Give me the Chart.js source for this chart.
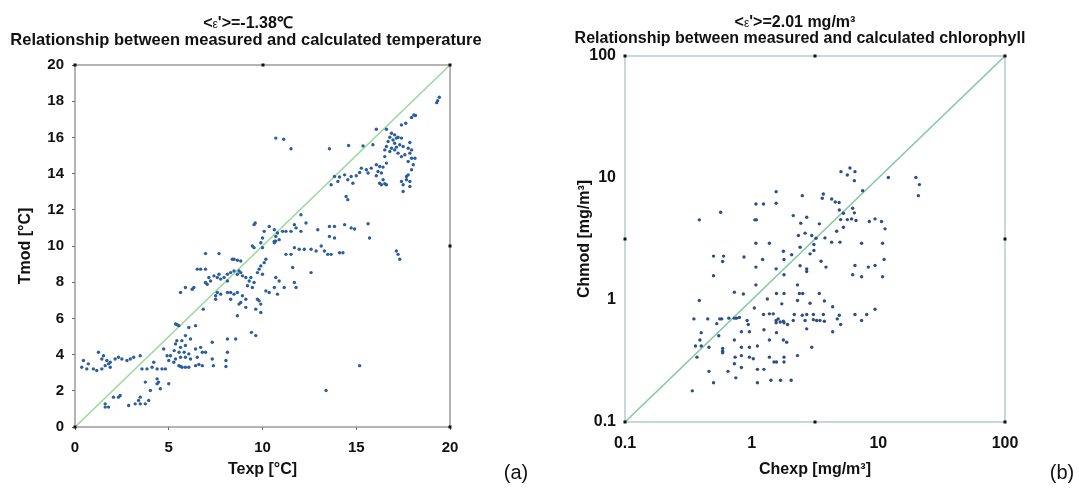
<!DOCTYPE html>
<html><head><meta charset="utf-8">
<script src="https://cdn.jsdelivr.net/npm/chart.js@4.4.1/dist/chart.umd.min.js"></script>
<style>
html,body{margin:0;padding:0;background:#fff;}
#wrap{position:relative;width:1079px;height:488px;overflow:hidden;background:#fff;}
#c1{position:absolute;left:0;top:0;}
#c2{position:absolute;left:540px;top:0;}
</style></head><body>
<div id="wrap">
<canvas id="c1" width="540" height="488"></canvas>
<canvas id="c2" width="539" height="488"></canvas>
</div>
<script>
// ---------- DATA ----------
// (a) temperature: measured (Texp) vs calculated (Tmod), degC
const texp = [19.43,19.29,19.34,18.07,18.16,17.95,17.64,17.41,16.07,16.61,16.88,17.05,16.79,17.14,16.96,17.23,17.41,16.70,17.05,17.32,16.61,16.88,17.14,17.50,16.52,16.79,17.05,17.77,17.95,17.86,17.59,17.95,18.13,17.77,17.41,16.52,17.23,16.61,17.86,16.07,16.25,16.43,16.16,16.34,16.07,16.43,16.25,16.52,16.61,16.34,18.04,17.95,17.77,17.68,17.41,17.86,17.50,17.86,17.50,17.68,13.84,14.11,14.38,14.55,14.73,14.82,15.00,15.18,15.27,15.54,15.63,15.80,13.66,14.02,14.46,14.55,10.71,11.13,11.52,13.57,14.59,15.36,15.89,12.05,9.55,9.61,10.36,10.63,10.09,10.80,10.71,10.89,10.63,11.07,11.25,11.52,11.70,11.79,12.05,12.32,12.95,13.57,13.84,14.38,14.73,14.91,15.63,10.00,13.57,13.84,15.71,
9.46,9.55,9.91,10.63,10.71,11.70,11.96,12.23,12.59,12.86,13.13,13.30,13.48,13.66,14.11,14.29,11.25,11.52,17.14,17.23,17.32,10.00,6.96,7.68,6.52,6.70,6.96,8.39,8.48,8.66,8.84,11.61,12.59,8.48,8.30,8.66,8.75,8.84,8.13,7.68,7.41,7.59,7.95,7.14,7.23,7.05,6.96,7.77,8.13,8.93,9.11,9.38,9.29,9.55,9.20,9.46,9.73,9.82,9.91,10.09,10.18,10.00,10.71,10.89,11.70,11.79,10.63,10.18,10.36,10.80,11.16,7.59,7.77,8.13,8.30,8.48,8.66,8.93,9.11,8.84,8.30,8.75,9.11,9.64,9.73,9.82,9.91,9.91,8.66,7.50,7.50,6.25,6.34,5.89,5.63,6.84,9.41,9.64,8.13,8.57,7.32,5.36,5.54,5.45,6.07,6.43,5.89,6.16,5.43,5.70,5.36,5.63,5.89,5.29,5.55,5.82,6.07,5.09,5.36,5.63,5.89,4.73,4.91,5.00,5.27,5.54,5.71,5.89,6.07,5.63,6.16,6.43,6.52,6.79,6.70,6.96,6.43,6.61,6.79,7.32,8.05,7.38,8.05,8.13,4.11,4.38,4.64,4.82,3.57,3.48,3.84,4.20,0.45,0.71,0.36,0.63,0.98,1.16,1.43,1.61,1.79,1.88,1.25,1.52,1.43,1.70,1.88,2.32,2.50,2.77,2.95,3.13,2.14,3.75,4.38,4.46,4.38,4.55,5.00,4.02,2.41,2.32,2.05,1.61,1.61,1.79,2.86,3.21,3.48,3.48,3.75,3.93,3.39,13.39,15.18];
const tmod = [18.22,17.92,18.03,17.24,17.21,17.10,16.78,16.69,16.45,16.45,16.23,16.14,16.01,15.96,15.86,16.01,15.96,15.77,15.68,15.59,15.50,15.40,15.46,15.50,15.31,15.22,15.31,15.40,15.31,15.13,15.04,14.85,14.85,14.67,14.94,14.94,15.13,14.58,15.72,14.49,14.39,14.36,14.12,14.03,13.88,13.66,13.47,13.44,13.38,13.38,14.49,14.21,13.93,13.66,13.57,13.57,13.38,13.29,13.01,13.84,13.84,13.81,13.93,13.66,13.84,13.47,13.88,14.06,14.30,14.21,14.03,14.30,13.38,13.57,12.74,12.56,15.96,15.90,15.37,15.37,15.55,15.53,15.59,11.73,11.18,11.27,11.08,10.90,10.81,10.72,10.53,10.35,10.26,10.81,10.81,10.81,11.18,11.00,10.81,11.27,10.90,11.08,11.08,11.18,11.00,10.94,11.23,10.44,10.53,10.44,10.44,
10.00,9.91,10.18,10.18,10.27,9.91,9.82,9.82,9.82,9.72,10.00,9.72,9.54,9.54,9.63,9.63,9.54,9.54,9.72,9.54,9.27,9.91,9.58,9.58,8.72,8.72,8.72,9.27,9.27,9.21,9.17,8.81,8.53,8.62,8.53,8.44,8.62,8.53,8.44,8.44,8.35,8.26,8.26,8.26,8.07,7.89,7.98,8.17,8.07,8.35,8.26,8.26,8.07,7.98,7.80,7.71,8.53,8.72,8.90,9.08,9.27,8.44,8.26,8.07,7.98,7.71,7.71,7.52,7.43,7.34,7.71,7.43,7.34,7.43,7.43,7.34,7.43,7.25,7.06,6.88,7.06,6.79,6.61,6.51,7.06,6.97,6.79,6.33,6.15,7.25,7.06,7.61,7.71,7.71,7.43,6.51,5.23,5.05,4.86,4.86,4.68,5.69,5.60,5.65,5.50,5.60,5.05,4.86,4.77,4.77,4.59,4.40,4.50,4.22,4.13,4.13,4.04,3.94,3.76,3.85,3.85,4.31,3.94,3.67,3.58,3.39,3.30,3.30,3.30,3.34,3.76,4.31,3.85,4.13,4.40,4.13,3.39,3.45,3.39,3.76,3.67,3.39,3.34,4.13,3.30,3.21,3.21,3.21,3.21,3.94,3.21,3.58,3.67,3.49,3.30,3.21,3.21,3.12,3.21,3.39,3.49,3.30,4.13,3.94,3.76,3.67,3.58,3.85,3.76,3.67,3.76,3.85,3.76,2.48,2.66,2.48,2.39,2.11,2.39,2.02,1.74,1.65,1.65,1.28,1.10,1.10,1.19,1.28,1.28,1.65,1.28,1.47,1.47,2.02,3.39];
const tempTicksX = [0, 5, 10, 15, 20];
const tempTicksY = [0, 2, 4, 6, 8, 10, 12, 14, 16, 18, 20];
const tempLine = [0, 20];

// (b) chlorophyll: measured (Chexp) vs calculated (Chmod), mg/m3
const chexp = [0.386,0.569,1.08,1.24,1.56,1.56,1.06,1.09,0.50,0.60,0.59,0.87,1.08,1.38,1.22,1.78,1.80,2.07,2.13,2.44,2.72,2.51,2.34,2.64,2.98,2.41,3.10,3.22,2.89,3.10,3.42,3.68,3.61,4.28,4.57,4.90,3.79,3.53,4.28,4.69,4.98,5.04,5.30,5.69,4.92,5.30,6.27,6.47,6.15,6.66,5.07,5.97,6.54,5.69,6.47,7.52,12.0,19.8,21.1,20.7,8.49,9.42,10.6,11.3,7.38,10.8,11.1,6.54,8.34,9.42,1.56,1.08,2.72,3.86,0.50,1.80,6.27,7.38,10.8,2.72,2.41,1.08,0.73,0.86,0.386,1.57,1.80,1.33,1.73,2.30,2.38,2.53,2.30,2.89,3.42,3.75,4.36,2.17,2.72,3.07,3.68,4.92,6.54,8.09,2.51,9.42,7.38,2.64,3.07,3.26,3.75,3.46,2.72,4.36,4.74,5.04,2.98,2.30,1.24,1.38,1.48,1.56,1.62,1.68,1.78,1.56,1.80,1.05,0.92,0.80,0.76,0.73,0.94,1.25,1.57,1.78,1.89,1.38,0.83,0.96,0.73,0.66,0.58,0.56,0.53,0.45,0.35,0.40,0.39,0.36,0.40,0.37,0.46,0.55,0.59,0.59,0.59,0.74,0.83,0.96,0.83,0.96,1.03,1.11,1.11,1.38,1.50,1.57,1.80,1.80,1.25,0.73,0.83,0.75,0.65,0.46,0.50,0.34,1.11,1.42,1.69,2.05,1.92,2.13];
const chmod = [4.54,5.24,6.13,6.13,7.73,6.21,4.54,4.54,2.29,2.29,2.07,2.25,2.92,2.92,2.15,2.51,2.15,2.35,4.92,4.26,4.77,7.17,3.38,3.53,3.38,2.71,2.85,3.21,2.39,2.55,4.21,7.40,6.82,6.73,6.35,6.30,3.23,2.08,2.98,3.66,2.98,4.56,3.95,4.56,5.47,5.14,5.65,5.18,4.62,4.48,11.27,12.08,11.27,10.59,9.51,7.87,10.1,10.1,8.83,7.17,4.40,4.62,4.40,3.83,2.92,2.92,2.15,1.92,1.86,1.92,1.80,1.86,1.80,1.86,1.58,1.61,1.61,1.55,1.55,1.71,1.91,1.33,1.16,1.12,0.99,1.13,1.13,1.02,0.93,1.33,1.13,1.13,0.99,0.94,1.13,0.98,0.88,0.76,0.76,0.76,0.76,0.75,0.76,0.76,0.75,0.84,0.68,0.68,0.69,0.68,0.67,0.68,0.58,0.55,0.70,0.63,0.41,0.35,0.76,0.77,0.77,0.68,0.70,0.66,0.67,0.65,0.65,0.86,0.68,0.72,0.71,0.71,0.63,0.57,0.54,0.47,0.45,0.47,0.55,0.55,0.47,0.71,0.70,0.70,0.64,0.70,0.70,0.54,0.47,0.42,0.42,0.34,0.41,0.51,0.40,0.38,0.37,0.34,0.41,0.41,0.35,0.34,0.33,0.42,0.27,0.34,0.31,0.31,0.31,0.34,0.27,0.30,0.28,0.23,0.26,0.26,0.21,0.18,0.21,0.22,0.22,0.22,0.63,0.68];
const chTicks = [0.1, 1, 10, 100];
const chLine = [0.1, 100];

// ---------- HELPERS ----------
const FONT = "'Liberation Sans', Arial, Helvetica, sans-serif";
Chart.defaults.font.family = FONT;
Chart.defaults.color = '#111';

function drawRich(ctx, segs, cx, y) {
  let total = 0;
  segs.forEach(s => { ctx.font = s.font; s.w = ctx.measureText(s.t).width; total += s.w; });
  let x = cx - total / 2;
  ctx.textAlign = 'left'; ctx.textBaseline = 'alphabetic'; ctx.fillStyle = '#111';
  segs.forEach(s => { ctx.font = s.font; ctx.fillText(s.t, x, y + (s.dy || 0)); x += s.w; });
}

const decorPlugin = {
  id: 'decor',
  beforeDatasetsDraw(chart, args, opts) {
    const a = chart.chartArea, ctx = chart.ctx;
    ctx.save();
    ctx.strokeStyle = opts.frameColor; ctx.lineWidth = 1.3;
    ctx.strokeRect(a.left, a.top, a.right - a.left, a.bottom - a.top);
    ctx.restore();
  },
  afterDraw(chart, args, opts) {
    const ctx = chart.ctx, xs = chart.scales.x, ys = chart.scales.y;
    ctx.save();
    ctx.fillStyle = '#111';
    (opts.dots || []).forEach(d => {
      const px = xs.getPixelForValue(d[0]), py = ys.getPixelForValue(d[1]);
      ctx.fillRect(Math.round(px) - 1.5, Math.round(py) - 1.5, 3, 3);
    });
    (opts.lines || []).forEach(l => drawRich(ctx, l.segs, l.cx, l.y));
    ctx.restore();
  }
};

function fixW(w) { return s => { s.width = w; }; }
function fixH(h) { return s => { s.height = h; }; }

// ---------- CHART (a) ----------
new Chart(document.getElementById('c1'), {
  type: 'scatter',
  data: {
    datasets: [
      { data: texp.map((x, i) => ({ x, y: tmod[i] })), pointRadius: 1.7, pointBorderWidth: 0,
        backgroundColor: '#2c5d9c', borderColor: '#2c5d9c' },
      { data: tempLine.map(v => ({ x: v, y: v })), showLine: true, pointRadius: 0,
        borderColor: '#9cd99c', borderWidth: 1.6 }
    ]
  },
  options: {
    responsive: false, animation: false, devicePixelRatio: 1,
    layout: { padding: { left: 0, right: 90, top: 65, bottom: 0 } },
    plugins: {
      legend: { display: false }, tooltip: { enabled: false },
      decor: {
        frameColor: '#8d8d8d',
        dots: [[0, 20], [10, 20], [20, 20], [20, 10], [20, 0], [0, 0]],
        lines: [
          { cx: 248, y: 28, segs: [
            { t: '<', font: 'bold 16px ' + FONT },
            { t: 'ε', font: '12px ' + FONT },
            { t: "'>=-1.38℃", font: 'bold 16px ' + FONT }] },
          { cx: 246, y: 45, segs: [{ t: 'Relationship between measured and calculated temperature', font: 'bold 16.5px ' + FONT }] },
          { cx: 516, y: 479, segs: [{ t: '(a)', font: '20px ' + FONT }] }
        ]
      }
    },
    scales: {
      x: {
        type: 'linear', min: 0, max: 20, afterFit: fixH(61),
        afterBuildTicks: s => { s.ticks = tempTicksX.map(v => ({ value: v })); },
        grid: { display: true, drawOnChartArea: false, drawTicks: true, tickLength: 3, color: '#666' },
        border: { display: false },
        ticks: { padding: 9, font: { size: 15, weight: 'bold' }, color: '#111' },
        title: { display: true, text: 'Texp [°C]', font: { size: 16, weight: 'bold' }, color: '#111', padding: { top: 0, bottom: 9 } }
      },
      y: {
        type: 'linear', min: 0, max: 20, afterFit: fixW(75),
        afterBuildTicks: s => { s.ticks = tempTicksY.map(v => ({ value: v })); },
        grid: { display: true, drawOnChartArea: false, drawTicks: true, tickLength: 3, color: '#666' },
        border: { display: false },
        ticks: { padding: 8, font: { size: 15, weight: 'bold' }, color: '#111' },
        title: { display: true, text: 'Tmod [°C]', font: { size: 16, weight: 'bold' }, color: '#111', padding: { top: 16, bottom: 0 } }
      }
    }
  },
  plugins: [decorPlugin]
});

// ---------- CHART (b) ----------
new Chart(document.getElementById('c2'), {
  type: 'scatter',
  data: {
    datasets: [
      { data: chexp.map((x, i) => ({ x, y: chmod[i] })), pointRadius: 1.7, pointBorderWidth: 0,
        backgroundColor: '#2c4f86', borderColor: '#2c4f86' },
      { data: chLine.map(v => ({ x: v, y: v })), showLine: true, pointRadius: 0,
        borderColor: '#86c9a0', borderWidth: 1.6 }
    ]
  },
  options: {
    responsive: false, animation: false, devicePixelRatio: 1,
    layout: { padding: { left: 0, right: 74, top: 56, bottom: 0 } },
    plugins: {
      legend: { display: false }, tooltip: { enabled: false },
      decor: {
        frameColor: '#a9c4c6',
        dots: [[0.1, 100], [3.1623, 100], [100, 100], [100, 3.1623], [100, 0.1], [3.1623, 0.1], [0.1, 0.1], [0.1, 3.1623]],
        lines: [
          { cx: 255, y: 27, segs: [
            { t: '<', font: 'bold 16px ' + FONT },
            { t: 'ε', font: '12px ' + FONT },
            { t: "'>=2.01 mg/m³", font: 'bold 16px ' + FONT }] },
          { cx: 260, y: 43, segs: [{ t: 'Relationship between measured and calculated chlorophyll', font: 'bold 16px ' + FONT }] },
          { cx: 522, y: 479, segs: [{ t: '(b)', font: '20px ' + FONT }] }
        ]
      }
    },
    scales: {
      x: {
        type: 'logarithmic', min: 0.1, max: 100, afterFit: fixH(66),
        afterBuildTicks: s => { s.ticks = chTicks.map(v => ({ value: v })); },
        grid: { display: false, drawTicks: false },
        border: { display: false },
        ticks: { padding: 12, font: { size: 16, weight: 'bold' }, color: '#111', callback: v => String(v) },
        title: { display: true, text: 'Chexp [mg/m³]', font: { size: 16, weight: 'bold' }, color: '#111', padding: { top: 0, bottom: 9 } }
      },
      y: {
        type: 'logarithmic', min: 0.1, max: 100, afterFit: fixW(85),
        afterBuildTicks: s => { s.ticks = chTicks.map(v => ({ value: v })); },
        grid: { display: false, drawTicks: false },
        border: { display: false },
        ticks: { padding: 9, font: { size: 16, weight: 'bold' }, color: '#111', callback: v => String(v) },
        title: { display: true, text: 'Chmod [mg/m³]', font: { size: 16, weight: 'bold' }, color: '#111', padding: { top: 35, bottom: 0 } }
      }
    }
  },
  plugins: [decorPlugin]
});
</script>
</body></html>
